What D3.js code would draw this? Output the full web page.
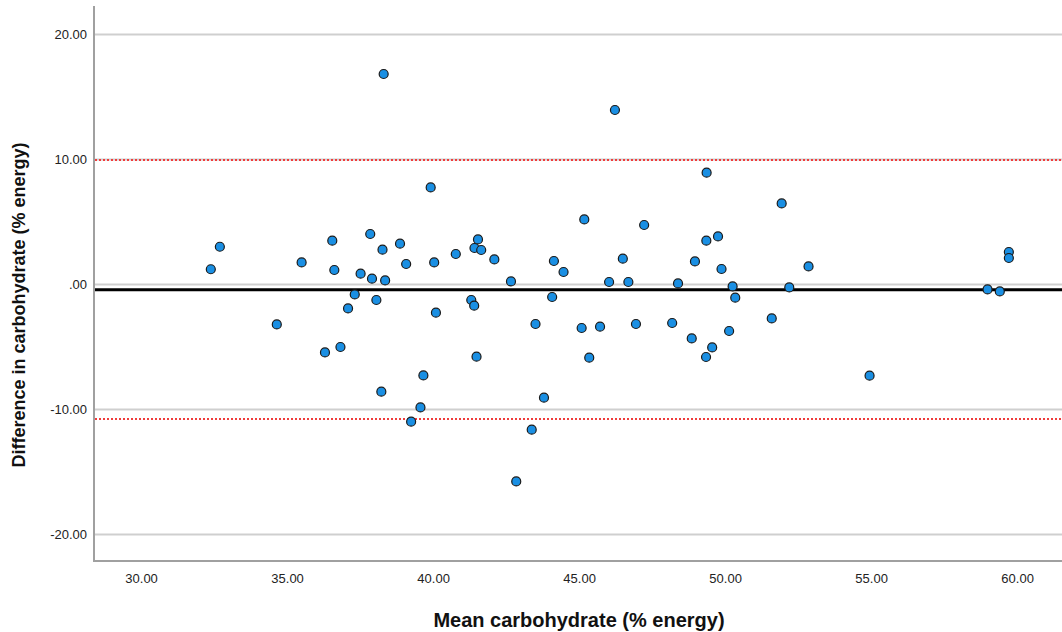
<!DOCTYPE html>
<html lang="en">
<head>
    <meta charset="UTF-8">
    <title>Bland-Altman carbohydrate</title>
    <script src="https://d3js.org/d3.v7.min.js"></script>
    <style>
        body { margin: 0; background: #fff; }
        .tick-label {
            font-family: "Liberation Sans", Arial, sans-serif;
            font-size: 13px;
            fill: #222;
        }
        .title {
            font-family: "Liberation Sans", Arial, sans-serif;
            font-weight: bold;
            fill: #111;
            text-anchor: middle;
        }
    </style>
</head>
<body>

<svg width="1062" height="632"></svg>

<script>
    const svg = d3.select("svg");

    // Mean of the two methods (x) and their difference (y)
    const meanCarb = [32.37, 32.68, 34.63, 35.48, 36.28, 36.53, 36.60, 36.81, 37.07, 37.30,
        37.50, 37.83, 37.89, 38.04, 38.21, 38.25, 38.29, 38.34, 38.85, 39.06,
        39.23, 39.55, 39.65, 39.90, 40.02, 40.08, 40.76, 41.29, 41.39, 41.40,
        41.47, 41.52, 41.63, 42.08, 42.65, 42.83, 43.36, 43.49, 43.78, 44.06,
        44.12, 44.45, 45.07, 45.16, 45.33, 45.70, 46.01, 46.21, 46.48, 46.67,
        46.93, 47.21, 48.17, 48.37, 48.84, 48.95, 49.33, 49.34, 49.35, 49.54,
        49.74, 49.86, 50.12, 50.24, 50.33, 51.58, 51.92, 52.18, 52.84, 54.93,
        58.97, 59.39, 59.70, 59.70];
    const diffCarb = [1.18, 2.98, -3.23, 1.73, -5.47, 3.47, 1.12, -5.04, -1.95, -0.83,
        0.83, 4.00, 0.43, -1.28, -8.61, 2.75, 16.80, 0.29, 3.23, 1.60,
        -11.01, -9.87, -7.31, 7.73, 1.73, -2.29, 2.40, -1.28, -1.73, 2.88,
        -5.81, 3.57, 2.72, 1.97, 0.21, -15.79, -11.65, -3.20, -9.09, -1.04,
        1.84, 0.96, -3.52, 5.17, -5.89, -3.41, 0.16, 13.92, 2.03, 0.16,
        -3.20, 4.72, -3.12, 0.05, -4.35, 1.81, -5.84, 3.47, 8.91, -5.07,
        3.81, 1.20, -3.76, -0.19, -1.09, -2.75, 6.45, -0.27, 1.41, -7.33,
        -0.43, -0.59, 2.56, 2.08];

    const xTicks = [30, 35, 40, 45, 50, 55, 60];
    const yTicks = [20, 10, 0, -10, -20];

    // mean difference and limits of agreement
    const meanDiff = -0.45;
    const limits = [9.92, -10.8];

    const plotLeft = 94, plotRight = 1062, plotTop = 6, plotBottom = 561;

    const x = d3.scaleLinear().domain([28.37, 61.52]).range([plotLeft, plotRight]);
    const y = d3.scaleLinear().domain([-22.16, 22.24]).range([plotBottom, plotTop]);

    // SPSS style: ".00" for zero, plain hyphen for minus
    const fmt = v => v === 0 ? ".00" : v.toFixed(2);

    // horizontal grid lines
    svg.append("g")
        .attr("transform", `translate(${plotLeft},0)`)
        .call(d3.axisLeft(y).tickValues(yTicks).tickSize(-(plotRight - plotLeft)).tickFormat(""))
        .call(g => g.select(".domain").remove())
        .call(g => g.selectAll("line").attr("stroke", "#cfcfcf").attr("stroke-width", 2));

    // y tick labels
    svg.append("g").selectAll("text")
        .data(yTicks)
        .join("text")
        .attr("class", "tick-label")
        .attr("x", 87)
        .attr("y", d => y(d))
        .attr("dy", "0.35em")
        .attr("text-anchor", "end")
        .text(fmt);

    // x tick labels
    svg.append("g").selectAll("text")
        .data(xTicks)
        .join("text")
        .attr("class", "tick-label")
        .attr("x", d => x(d))
        .attr("y", 578)
        .attr("dy", "0.35em")
        .attr("text-anchor", "middle")
        .text(fmt);

    // axis lines
    svg.append("line")
        .attr("x1", plotLeft).attr("x2", plotLeft)
        .attr("y1", plotTop).attr("y2", plotBottom)
        .attr("stroke", "#a0a0a0").attr("stroke-width", 2);
    svg.append("line")
        .attr("x1", plotLeft - 1).attr("x2", plotRight)
        .attr("y1", plotBottom).attr("y2", plotBottom)
        .attr("stroke", "#a0a0a0").attr("stroke-width", 2);

    // limits of agreement (dotted red)
    svg.append("g").selectAll("line")
        .data(limits)
        .join("line")
        .attr("x1", plotLeft + 1).attr("x2", plotRight)
        .attr("y1", d => y(d)).attr("y2", d => y(d))
        .attr("stroke", "#f03c3c")
        .attr("stroke-width", 2)
        .attr("stroke-dasharray", "2,2");

    // mean difference line
    svg.append("line")
        .attr("x1", plotLeft + 1).attr("x2", plotRight)
        .attr("y1", y(meanDiff)).attr("y2", y(meanDiff))
        .attr("stroke", "#000")
        .attr("stroke-width", 3);

    // points
    svg.append("g").selectAll("circle")
        .data(meanCarb.map((m, i) => [m, diffCarb[i]]))
        .join("circle")
        .attr("cx", d => x(d[0]))
        .attr("cy", d => y(d[1]))
        .attr("r", 4.5)
        .attr("fill", "#1a8fe3")
        .attr("stroke", "#1a1a1a")
        .attr("stroke-width", 1.2);

    // axis titles
    svg.append("text")
        .attr("class", "title")
        .style("font-size", "20px")
        .attr("x", 579)
        .attr("y", 620)
        .attr("dy", "0.35em")
        .text("Mean carbohydrate (% energy)");

    svg.append("text")
        .attr("class", "title")
        .style("font-size", "18px")
        .attr("transform", "translate(19,305) rotate(-90)")
        .attr("dy", "0.35em")
        .text("Difference in carbohydrate (% energy)");
</script>

</body>
</html>
